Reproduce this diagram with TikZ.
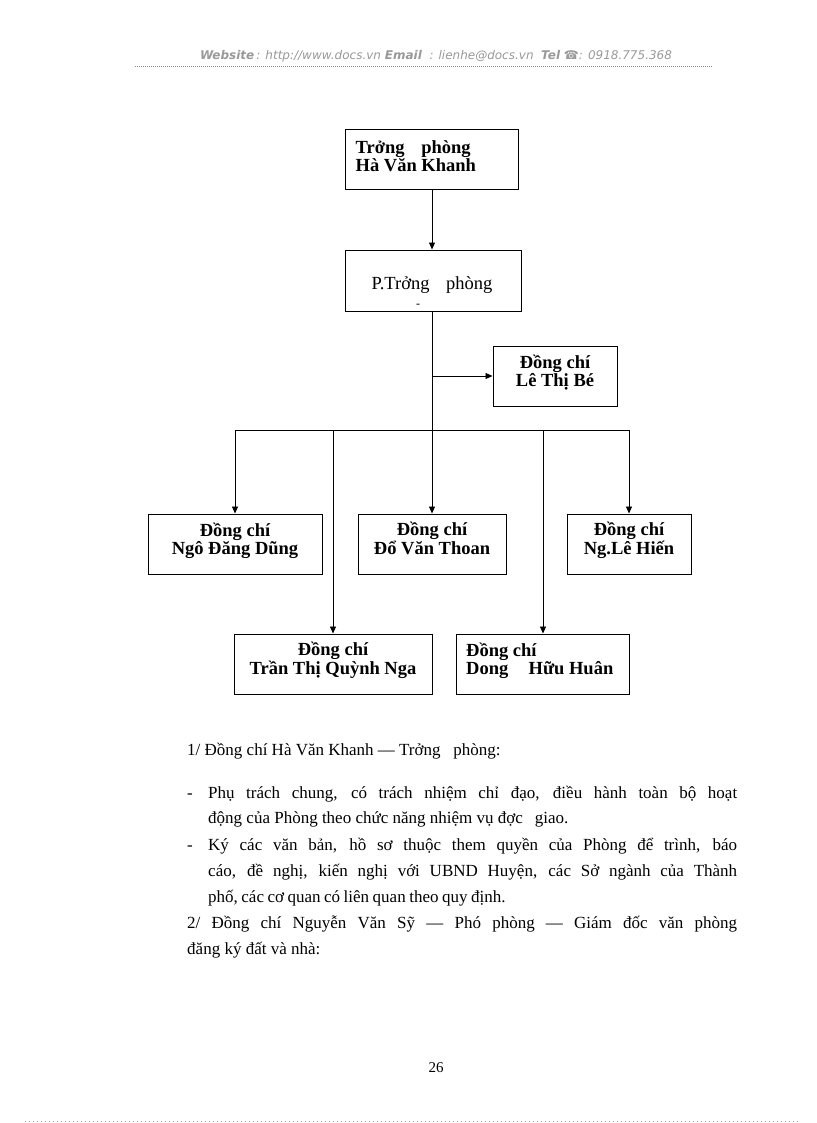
\documentclass[tikz,border=0pt]{standalone}
\usepackage{fontspec}
\setmainfont{Liberation Serif}
\newfontfamily\hdrfont{DejaVu Sans}
\usetikzlibrary{arrows.meta}
\begin{document}
\begin{tikzpicture}[x=1pt,y=-1pt,
  box/.style={draw, line width=1pt, inner sep=0pt, font=\bfseries\fontsize{18.5}{17}\selectfont, align=center, text depth=11pt},
  ltxt/.style={inner sep=0pt, font=\bfseries\fontsize{18.5}{17}\selectfont, align=left, text depth=11pt, anchor=west},
  arr/.style={line width=0.8pt, -{Triangle[length=7pt,width=6pt]}},
  ln/.style={line width=0.8pt},
  body/.style={inner sep=0pt, anchor=base west, font=\fontsize{17}{17}\selectfont},
  hdr/.style={inner sep=0pt, anchor=base, text=black!40, font=\hdrfont\itshape\fontsize{12}{12}\selectfont}]
\useasboundingbox (0,0) rectangle (816,1123);
\fill[white] (0,0) rectangle (816,1123);

% header
\node[hdr] (header) at (436,60) {\textbf{Website}\,: http://www.docs.vn \textbf{Email}\ \ : lienhe@docs.vn \ \textbf{Tel} ☎: 0918.775.368};
\draw[black!45, line width=0.6pt, dash pattern=on 1pt off 1pt] (135,66) coordinate (h1) -- (712,66) coordinate (h2);

% boxes
\node[box, minimum width=173, minimum height=60] (top) at (431.5,160) {};
\node[ltxt] (toptxt) at ([xshift=11pt,yshift=-2pt]top.west) {Trởng\hspace{0.9em}phòng\\Hà Văn Khanh};
\node[box, minimum width=176, minimum height=61] (pbox) at (433,280.5) {};
\node[inner sep=0pt, anchor=base, font=\fontsize{18.5}{17}\selectfont] (ptxt) at (432,289) {P.Trởng\hspace{0.9em}phòng};
\node[inner sep=0pt, anchor=base, font=\fontsize{12}{12}\selectfont] (pdash) at (418,307) {-};
\node[box, minimum width=124, minimum height=60] (lebe) at (555,376) {Đồng chí\\Lê Thị Bé};

\node[box, minimum width=174, minimum height=60] (ngo) at (235,544) {Đồng chí\\Ngô Đăng Dũng};
\node[box, minimum width=148, minimum height=60] (doan) at (432,544) {Đồng chí\\Đổ Văn Thoan};
\node[box, minimum width=124, minimum height=60] (hien) at (629,544) {Đồng chí\\Ng.Lê Hiến};
\node[box, minimum width=198, minimum height=60] (tran) at (333,664) {Đồng chí\\Trần Thị Quỳnh Nga};
\node[box, minimum width=173, minimum height=60] (dong) at (543,664) {};
\node[ltxt] (dongtxt) at ([xshift=10pt]dong.west) {Đồng chí\\Dong\hspace{1.1em}Hữu Huân};

% connectors
\coordinate (bus) at (432,430);
\draw[arr] (top.south -| bus) -- (pbox.north -| bus);
\draw[arr] (pbox.south -| bus) -- (doan.north);
\draw[arr] (bus |- lebe.west) -- (lebe.west);
\draw[ln] (ngo.north |- bus) -- (hien.north |- bus);
\draw[arr] (ngo.north |- bus) -- (ngo.north);
\draw[arr] (hien.north |- bus) -- (hien.north);
\draw[arr] (tran.north |- bus) -- (tran.north);
\draw[arr] (dong.north |- bus) -- (dong.north);

% body text
\node[body] (l0) at (187,755) {1/ Đồng chí Hà Văn Khanh — Trởng\hspace{0.75em}phòng:};
\node[body] (d1) at (187,798) {-};
\node[body] (l1) at (208,798) {\makebox[529pt][s]{Phụ trách chung, có trách nhiệm chỉ đạo, điều hành toàn bộ hoạt}};
\node[body] (l2) at (208,823) {động của Phòng theo chức năng nhiệm vụ đợc\hspace{0.7em}giao.};
\node[body] (d2) at (187,850) {-};
\node[body] (l3) at (208,850) {\makebox[529pt][s]{Ký các văn bản, hồ sơ thuộc them quyền của Phòng để trình, báo}};
\node[body] (l4) at (208,876) {\makebox[529pt][s]{cáo, đề nghị, kiến nghị với UBND Huyện, các Sở ngành của Thành}};
\node[body] (l5) at (208,902) {\spaceskip=3.5pt plus 1pt phố, các cơ quan có liên quan theo quy định.};
\node[body] (l6) at (187,928) {\makebox[550pt][s]{2/ Đồng chí Nguyễn Văn Sỹ — Phó phòng — Giám đốc văn phòng}};
\node[body] (l7) at (187,954) {đăng ký đất và nhà:};

% page number
\node[inner sep=0pt, anchor=base, font=\fontsize{15}{15}\selectfont] (pnum) at (436,1072) {26};
\draw[black!35, line width=0.8pt, dash pattern=on 1pt off 3pt] (25,1121.5) coordinate (f1) -- (800,1121.5) coordinate (f2);
\end{tikzpicture}
\end{document}
